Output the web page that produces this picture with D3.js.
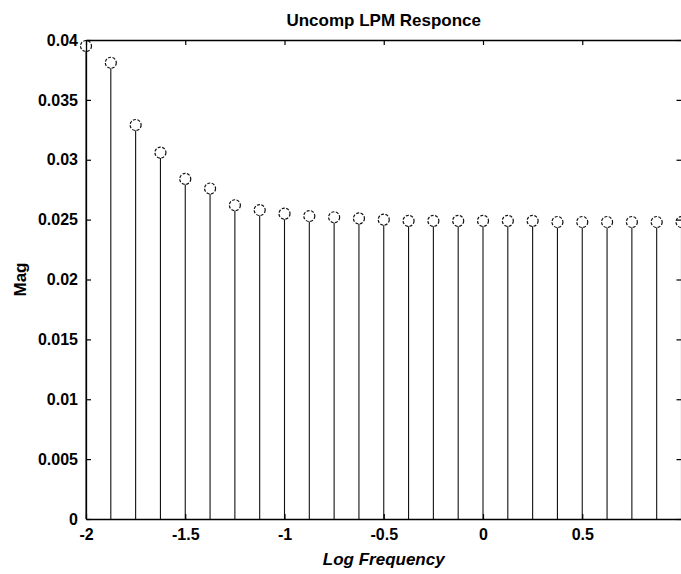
<!DOCTYPE html>
<html>
<head>
<meta charset="utf-8">
<script src="https://cdn.jsdelivr.net/npm/d3@7"></script>
<style>
  html, body { margin: 0; padding: 0; background: #fff; }
  svg { display: block; }
  text { font-family: "Liberation Sans", Arial, sans-serif; fill: #000; }
</style>
</head>
<body>
<svg id="chart" width="681" height="574"></svg>
<script>
// ---- Data ----
const logFrequency = [-2, -1.875, -1.75, -1.625, -1.5, -1.375, -1.25, -1.125, -1,
  -0.875, -0.75, -0.625, -0.5, -0.375, -0.25, -0.125, 0, 0.125, 0.25, 0.375,
  0.5, 0.625, 0.75, 0.875, 1];
const magnitude = [0.0395, 0.0381, 0.0329, 0.0306, 0.0284, 0.0276, 0.0262, 0.0258,
  0.0255, 0.0253, 0.0252, 0.0251, 0.0250, 0.0249, 0.0249, 0.0249, 0.0249, 0.0249,
  0.0249, 0.0248, 0.0248, 0.0248, 0.0248, 0.0248, 0.0248];
const xTicks = [-2, -1.5, -1, -0.5, 0, 0.5, 1];
const xTickLabels = ["-2", "-1.5", "-1", "-0.5", "0", "0.5", ""]; // "1" falls off the right edge
const yTicks = [0, 0.005, 0.01, 0.015, 0.02, 0.025, 0.03, 0.035, 0.04];
const titleText = "Uncomp LPM Responce";
const xLabel = "Log Frequency";
const yLabel = "Mag";

// ---- Layout ----
const svg = d3.select("#chart");
const mLeft = 86, mRight = 681.5, mTop = 40, mBottom = 519;
const x = d3.scaleLinear().domain([-2, 1]).range([mLeft, mRight]);
const y = d3.scaleLinear().domain([0, 0.04]).range([mBottom, mTop]);
const tickLen = 5;

// stems
svg.append("g").selectAll("line").data(logFrequency).join("line")
  .attr("x1", d => x(d)).attr("x2", d => x(d))
  .attr("y1", y(0)).attr("y2", (d, i) => y(magnitude[i]) + 5.5)
  .attr("stroke", "#111").attr("stroke-width", 1.1);

// markers
svg.append("g").selectAll("circle").data(logFrequency).join("circle")
  .attr("cx", d => x(d)).attr("cy", (d, i) => y(magnitude[i]))
  .attr("r", 5.5).attr("fill", "none")
  .attr("stroke", "#111").attr("stroke-width", 1.2)
  .attr("stroke-dasharray", "3,1.5");

// axes (MATLAB-style box, inward ticks)
const fmt = d => String(d);
const xFmt = (d, i) => xTickLabels[i];
const axBottom = svg.append("g").attr("transform", `translate(0,${mBottom})`)
  .call(d3.axisBottom(x).tickValues(xTicks).tickSizeInner(-tickLen).tickSizeOuter(0).tickPadding(10).tickFormat(xFmt));
const axTop = svg.append("g").attr("transform", `translate(0,${mTop})`)
  .call(d3.axisTop(x).tickValues(xTicks).tickSizeInner(-tickLen).tickSizeOuter(0).tickFormat(""));
const axLeft = svg.append("g").attr("transform", `translate(${mLeft},0)`)
  .call(d3.axisLeft(y).tickValues(yTicks).tickSizeInner(-tickLen).tickSizeOuter(0).tickPadding(8).tickFormat(fmt));
const axRight = svg.append("g").attr("transform", `translate(${mRight},0)`)
  .call(d3.axisRight(y).tickValues(yTicks).tickSizeInner(-tickLen).tickSizeOuter(0).tickFormat(""));

[axBottom, axTop, axLeft, axRight].forEach(g => {
  g.selectAll("path.domain").attr("stroke", "#000").attr("stroke-width", 1.3);
  g.selectAll(".tick line").attr("stroke", "#000").attr("stroke-width", 1.2);
  g.selectAll("text").style("font-family", "'Liberation Sans', Arial, sans-serif")
    .style("font-size", "16px").style("font-weight", "bold").attr("fill", "#000");
});

// title
svg.append("text").attr("x", (mLeft + mRight) / 2).attr("y", 26)
  .attr("text-anchor", "middle").style("font-size", "17px").style("font-weight", "bold")
  .text(titleText);

// x label
svg.append("text").attr("x", (mLeft + mRight) / 2).attr("y", 565)
  .attr("text-anchor", "middle").style("font-size", "17px").style("font-weight", "bold")
  .style("font-style", "italic")
  .text(xLabel);

// y label
svg.append("text").attr("transform", `translate(26,${(mTop + mBottom) / 2}) rotate(-90)`)
  .attr("text-anchor", "middle").style("font-size", "17px").style("font-weight", "bold")
  .text(yLabel);
</script>
</body>
</html>
